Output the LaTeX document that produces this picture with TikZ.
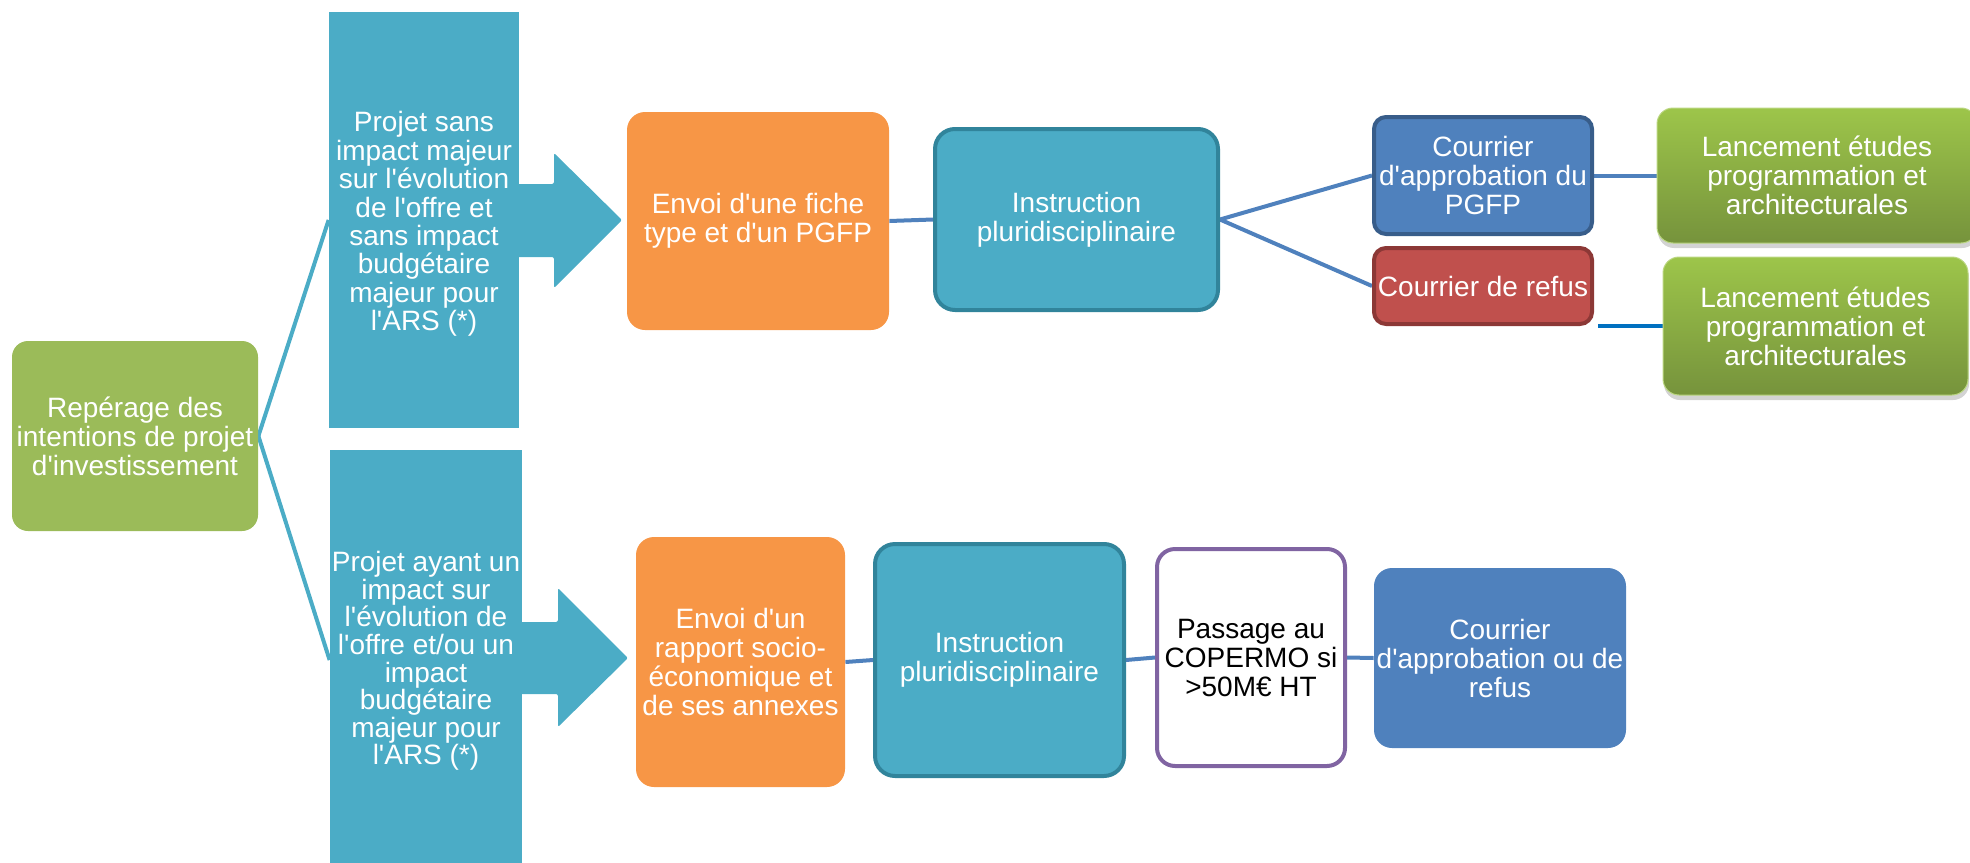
\documentclass[tikz,border=0pt]{standalone}
\usepackage{fontspec}
\newfontfamily\arialf{Liberation Sans}
\usetikzlibrary{shadows}
\definecolor{cGreen}{HTML}{9BBB59}
\definecolor{cTeal}{HTML}{4BACC6}
\definecolor{cTealDk}{HTML}{31849B}
\definecolor{cOrange}{HTML}{F79646}
\definecolor{cBlue}{HTML}{4F81BD}
\definecolor{cBlueDk}{HTML}{385D8A}
\definecolor{cRed}{HTML}{C0504D}
\definecolor{cRedDk}{HTML}{8C3836}
\definecolor{cPurple}{HTML}{8064A2}
\definecolor{cBright}{HTML}{0070C0}
\definecolor{cLgTop}{HTML}{9DC54A}
\definecolor{cLgBot}{HTML}{76933C}
\pgfdeclarelayer{bg}
\pgfsetlayers{bg,main}
\begin{document}
\begin{tikzpicture}[x=0.5pt,y=-0.5pt,
  base/.style={inner sep=0pt, align=center, text=white,
    font=\arialf\fontsize{14}{14.5}\selectfont},
  greenbox/.style={base, fill=cGreen, rounded corners=8pt},
  tealrect/.style={base, fill=cTeal},
  tealtext/.style={base, font=\arialf\fontsize{14}{14.2}\selectfont},
  orangebox/.style={base, fill=cOrange, rounded corners=9pt},
  instrbox/.style={base, fill=cTeal, draw=cTealDk, line width=2pt, rounded corners=10pt},
  approbox/.style={base, fill=cBlue, draw=cBlueDk, line width=2pt, rounded corners=6pt},
  refusbox/.style={base, fill=cRed, draw=cRedDk, line width=2pt, rounded corners=6pt},
  launchbox/.style={base, top color=cLgTop, bottom color=cLgBot, draw=cLgTop!70!white, line width=0.5pt,
    rounded corners=8pt, drop shadow={opacity=0.35, shadow xshift=0.5pt, shadow yshift=-2.5pt}},
  copbox/.style={base, text=black, fill=white, draw=cPurple, line width=2pt, rounded corners=9pt},
  letterbox/.style={base, fill=cBlue, rounded corners=9pt},
  tealline/.style={draw=cTeal, line width=2pt},
  blueline/.style={draw=cBlue, line width=2pt},
  brightline/.style={draw=cBright, line width=2pt}]
\useasboundingbox (0,0) rectangle (1970,862);

% left node
\node[greenbox, minimum width=123pt, minimum height=95pt] (g) at (135,436)
  {Repérage des\\intentions de projet\\d'investissement};

% tall teal blocks with arrows
\node[tealrect, minimum width=95pt, minimum height=208pt] (bt) at (424,220) {};
\node[tealrect, minimum width=96pt, minimum height=210pt] (bb) at (426,660) {};
\fill[cTeal, rounded corners=1pt] (517,184) -- (554,184) -- (554,153) -- (622,220) -- (554,288) -- (554,257) -- (517,257) -- cycle;
\fill[cTeal, rounded corners=1pt] (520,622) -- (558,622) -- (558,588) -- (628,658) -- (558,727) -- (558,694) -- (520,694) -- cycle;
\node[tealtext] (btText) at (424,224)
  {Projet sans\\impact majeur\\sur l'évolution\\de l'offre et\\sans impact\\budgétaire\\majeur pour\\l'ARS (*)};
\node[tealtext, font=\arialf\fontsize{14}{13.8}\selectfont] (bbText) at (426,661)
  {Projet ayant un\\impact sur\\l'évolution de\\l'offre et/ou un\\impact\\budgétaire\\majeur pour\\l'ARS (*)};

% top row
\node[orangebox, minimum width=131pt, minimum height=109pt] (o1) at (758,221)
  {Envoi d'une fiche\\type et d'un PGFP};
\node[instrbox, minimum width=141.5pt, minimum height=90.5pt] (i1) at (1076.5,219.5)
  {Instruction\\pluridisciplinaire};
\node[approbox, minimum width=109pt, minimum height=58.5pt] (ap) at (1483,175.5)
  {Courrier\\d'approbation du\\PGFP};
\node[refusbox, minimum width=109pt, minimum height=38pt] (rf) at (1483,286)
  {Courrier de refus};
\node[launchbox, minimum width=160pt, minimum height=67.5pt] (L1) at (1817,175.5)
  {Lancement études\\programmation et\\architecturales};
\node[launchbox, minimum width=152.5pt, minimum height=69pt] (L2) at (1815.5,326)
  {Lancement études\\programmation et\\architecturales};
\coordinate (rfEnd) at (1598,326);

% bottom row
\node[orangebox, minimum width=104.5pt, minimum height=125pt] (o2) at (740.5,662)
  {Envoi d'un\\rapport socio-\\économique et\\de ses annexes};
\node[instrbox, minimum width=124.5pt, minimum height=116pt] (i2) at (999.5,660)
  {Instruction\\pluridisciplinaire};
\node[copbox, minimum width=94pt, minimum height=108.5pt] (ps) at (1251,657.5)
  {Passage au\\COPERMO si\\>50M€ HT};
\node[letterbox, minimum width=126pt, minimum height=90pt] (c2) at (1500,658)
  {Courrier\\d'approbation ou de\\refus};

\begin{pgfonlayer}{bg}
\draw[tealline] (g.east) -- (bt.west);
\draw[tealline] (g.east) -- (bb.west);
\draw[blueline] (o1.east) -- (i1.west);
\draw[blueline] (i1.east) -- (ap.west);
\draw[blueline] (i1.east) -- (rf.west);
\draw[blueline] (ap.east) -- (L1.west);
\draw[brightline] (rfEnd) -- (L2.west);
\draw[blueline] (o2.east) -- (i2.west);
\draw[blueline] (i2.east) -- (ps.west);
\draw[blueline] (ps.east) -- (c2.west);
\end{pgfonlayer}
\end{tikzpicture}
\end{document}
